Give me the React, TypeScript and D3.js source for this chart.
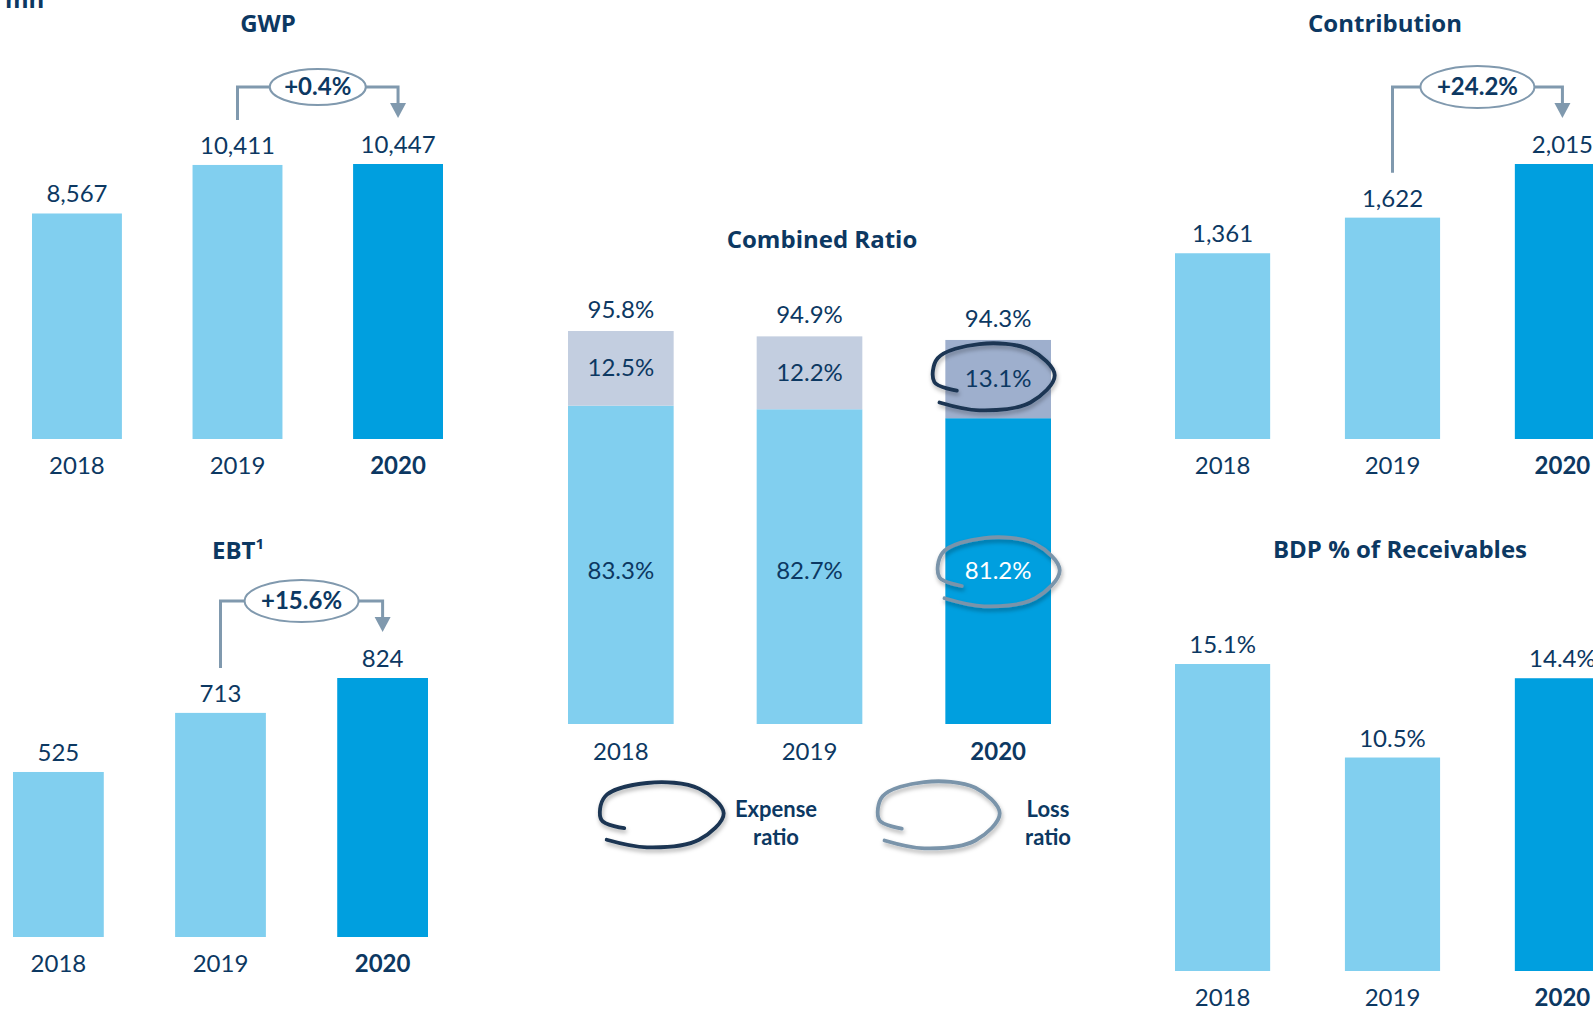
import * as d3 from "d3";
import React from "react";

const years = ["2018", "2019", "2020"];
const gwp = [8567, 10411, 10447];
const ebt = [525, 713, 824];
const contribution = [1361, 1622, 2015];
const bdpReceivables = [15.1, 10.5, 14.4];
const lossRatio = [83.3, 82.7, 81.2];
const expenseRatio = [12.5, 12.2, 13.1];
const combinedRatio = [95.8, 94.9, 94.3];
const gwpChange = "+0.4%";
const ebtChange = "+15.6%";
const contributionChange = "+24.2%";

const W = 1593;
const H = 1009;
const FONT = "Lato, 'Open Sans', sans-serif";
const TITLE_FONT = "'Open Sans', Lato, sans-serif";
const NAVY = "#0c3862";
const LIGHT = "#81cfef";
const DARK = "#009fdf";
const EXP_LIGHT = "#c3cee0";
const EXP_DARK = "#9eafcd";
const ARROW = "#8099ae";
const LOOP_DARK = "#1a3552";
const LOOP_GREY = "#7a94aa";

const fmtInt = d3.format(",");
const fmtPct = (v: number) => d3.format(".1f")(v) + "%";

interface Growth {
  label: string;
  lineY: number;
  rx: number;
  ry: number;
}

interface PanelProps {
  title: React.ReactNode;
  titleX: number;
  titleY: number;
  values: number[];
  x0: number;
  x1: number;
  baseline: number;
  maxTop: number;
  fmt: (v: number) => string;
  growth?: Growth;
}

const BarPanel = ({ title, titleX, titleY, values, x0, x1, baseline, maxTop, fmt, growth }: PanelProps) => {
  const x = d3.scaleBand<string>().domain(years).range([x0, x1]).paddingInner(0.44).paddingOuter(0);
  const y = d3.scaleLinear().domain([0, d3.max(values) as number]).range([baseline, maxTop]);
  const bw = x.bandwidth();
  let arrow = null;
  if (growth) {
    const xa = (x(years[1]) as number) + bw / 2;
    const xb = (x(years[2]) as number) + bw / 2;
    const ya = y(values[1]) - 45;
    const yb = y(values[2]) - 46;
    const cx = (xa + xb) / 2;
    const ly = growth.lineY;
    arrow = (
      <g>
        <path
          d={`M${xa},${ya}V${ly}H${cx - growth.rx}M${cx + growth.rx},${ly}H${xb}V${yb - 14}`}
          fill="none"
          stroke={ARROW}
          strokeWidth={3}
        />
        <path d={`M${xb - 8},${yb - 15}L${xb + 8},${yb - 15}L${xb},${yb}Z`} fill={ARROW} />
        <ellipse cx={cx} cy={ly} rx={growth.rx} ry={growth.ry} fill="#fff" stroke={ARROW} strokeWidth={2} />
        <text x={cx} y={ly + 8} textAnchor="middle" fontWeight="bold" fontSize={24} fill={NAVY}>
          {growth.label}
        </text>
      </g>
    );
  }
  return (
    <g fontFamily={FONT}>
      <text
        x={titleX}
        y={titleY}
        textAnchor="middle"
        fontFamily={TITLE_FONT}
        fontWeight="bold"
        fontSize={24}
        fill={NAVY}
      >
        {title}
      </text>
      {values.map((v, i) => (
        <g key={years[i]}>
          <rect
            x={x(years[i])}
            y={y(v)}
            width={bw}
            height={baseline - y(v)}
            fill={i === 2 ? DARK : LIGHT}
          />
          <text x={(x(years[i]) as number) + bw / 2} y={y(v) - 11} textAnchor="middle" fontSize={24} fill={NAVY}>
            {fmt(v)}
          </text>
          <text
            x={(x(years[i]) as number) + bw / 2}
            y={baseline + 35}
            textAnchor="middle"
            fontSize={24}
            fontWeight={i === 2 ? "bold" : "normal"}
            fill={NAVY}
          >
            {years[i]}
          </text>
        </g>
      ))}
      {arrow}
    </g>
  );
};

// hand-drawn open loop around a label
const loopLine = d3
  .line<[number, number]>()
  .x((d) => d[0])
  .y((d) => d[1])
  .curve(d3.curveCatmullRom.alpha(0.5));

const Loop = ({ cx, cy, rx, ry, color }: { cx: number; cy: number; rx: number; ry: number; color: string }) => {
  const pts: [number, number][] = [
    [cx - 0.55 * rx, cy + 0.4 * ry],
    [cx - 0.9 * rx, cy + 0.15 * ry],
    [cx - 0.85 * rx, cy - 0.55 * ry],
    [cx - 0.2 * rx, cy - 0.97 * ry],
    [cx + 0.6 * rx, cy - 0.8 * ry],
    [cx + 0.98 * rx, cy - 0.05 * ry],
    [cx + 0.6 * rx, cy + 0.75 * ry],
    [cx - 0.2 * rx, cy + 0.98 * ry],
    [cx - 0.82 * rx, cy + 0.75 * ry],
  ];
  return (
    <path d={loopLine(pts) as string} fill="none" stroke={color} strokeWidth={3.8} strokeLinecap="round" filter="url(#shadow)" />
  );
};

const CombinedPanel = () => {
  const x = d3.scaleBand<string>().domain(years).range([568, 1051]).paddingInner(0.44).paddingOuter(0);
  const y = d3.scaleLinear().domain([30, 95.8]).range([724, 331]);
  const bw = x.bandwidth();
  const stacked = years.map((yr, i) => ({ yr, loss: lossRatio[i], exp: expenseRatio[i], total: combinedRatio[i] }));
  return (
    <g fontFamily={FONT}>
      <text x={822} y={248} textAnchor="middle" fontFamily={TITLE_FONT} fontWeight="bold" fontSize={24} fill={NAVY}>
        Combined Ratio
      </text>
      {stacked.map((d, i) => {
        const bx = x(d.yr) as number;
        const cx = bx + bw / 2;
        const yLoss = y(d.loss);
        const yTot = y(d.loss + d.exp);
        return (
          <g key={d.yr}>
            <rect x={bx} y={yLoss} width={bw} height={y.range()[0] - yLoss} fill={i === 2 ? DARK : LIGHT} />
            <rect x={bx} y={yTot} width={bw} height={yLoss - yTot} fill={i === 2 ? EXP_DARK : EXP_LIGHT} />
            <text x={cx} y={yTot - 13} textAnchor="middle" fontSize={24} fill={NAVY}>
              {fmtPct(d.total)}
            </text>
            <text x={cx} y={(yLoss + yTot) / 2 + 8} textAnchor="middle" fontSize={24} fill={NAVY}>
              {fmtPct(d.exp)}
            </text>
            <text x={cx} y={y(55) + 4} textAnchor="middle" fontSize={24} fill={i === 2 ? "#fff" : NAVY}>
              {fmtPct(d.loss)}
            </text>
            <text
              x={cx}
              y={y.range()[0] + 36}
              textAnchor="middle"
              fontSize={24}
              fontWeight={i === 2 ? "bold" : "normal"}
              fill={NAVY}
            >
              {d.yr}
            </text>
          </g>
        );
      })}
      <Loop cx={992} cy={377} rx={64} ry={34} color={LOOP_DARK} />
      <Loop cx={997} cy={572} rx={64} ry={35} color={LOOP_GREY} />
      <Loop cx={660} cy={815} rx={65} ry={33} color={LOOP_DARK} />
      <Loop cx={937} cy={815} rx={64} ry={34} color={LOOP_GREY} />
      <text textAnchor="middle" fontWeight="bold" fontSize={22} fill={NAVY}>
        <tspan x={776} y={817}>Expense</tspan>
        <tspan x={776} y={845}>ratio</tspan>
      </text>
      <text textAnchor="middle" fontWeight="bold" fontSize={22} fill={NAVY}>
        <tspan x={1048} y={817}>Loss</tspan>
        <tspan x={1048} y={845}>ratio</tspan>
      </text>
    </g>
  );
};

export default function App() {
  return (
    <svg
      width={W}
      height={H}
      style={{ position: "absolute", left: 0, top: 0, display: "block", background: "#fff" }}
    >
      <defs>
        <filter id="shadow" x="-20%" y="-20%" width="140%" height="160%">
          <feDropShadow dx="1" dy="3" stdDeviation="2" floodColor="#000" floodOpacity="0.3" />
        </filter>
      </defs>
      <text x={5} y={8} fontFamily={TITLE_FONT} fontWeight="bold" fontSize={24} fill={NAVY}>
        mn
      </text>
      <BarPanel
        title="GWP"
        titleX={268}
        titleY={32}
        values={gwp}
        x0={32}
        x1={443}
        baseline={439}
        maxTop={164}
        fmt={fmtInt}
        growth={{ label: gwpChange, lineY: 87, rx: 48, ry: 18 }}
      />
      <BarPanel
        title={
          <>
            EBT<tspan fontSize={15} dy={-10}>1</tspan>
          </>
        }
        titleX={238}
        titleY={559}
        values={ebt}
        x0={13}
        x1={428}
        baseline={937}
        maxTop={678}
        fmt={fmtInt}
        growth={{ label: ebtChange, lineY: 601, rx: 57, ry: 21 }}
      />
      <CombinedPanel />
      <BarPanel
        title="Contribution"
        titleX={1385}
        titleY={32}
        values={contribution}
        x0={1175}
        x1={1610}
        baseline={439}
        maxTop={164}
        fmt={fmtInt}
        growth={{ label: contributionChange, lineY: 87, rx: 57, ry: 21 }}
      />
      <BarPanel
        title="BDP % of Receivables"
        titleX={1400}
        titleY={558}
        values={bdpReceivables}
        x0={1175}
        x1={1610}
        baseline={971}
        maxTop={664}
        fmt={fmtPct}
      />
    </svg>
  );
}
